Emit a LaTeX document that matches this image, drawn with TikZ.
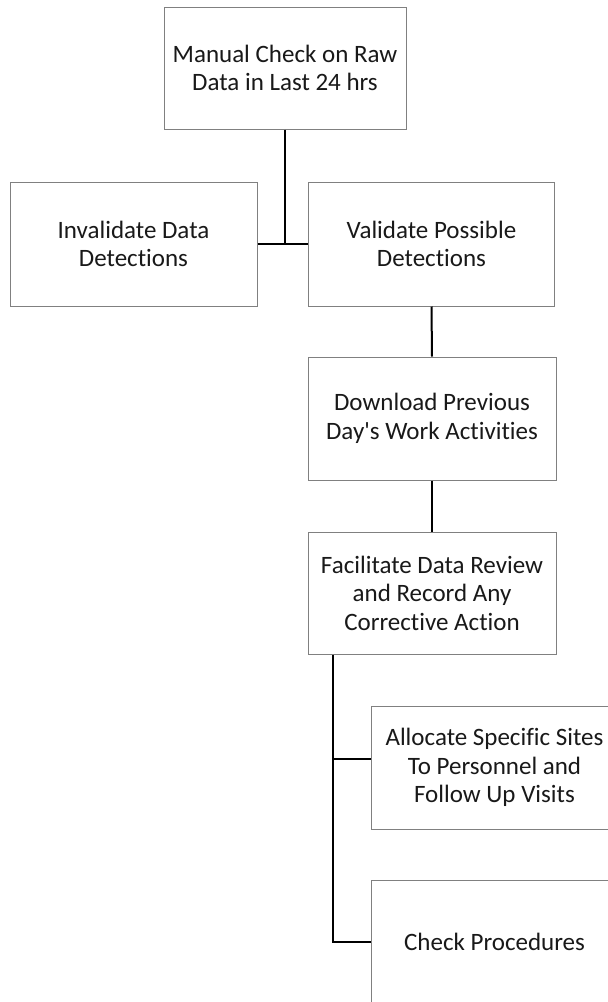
\documentclass[tikz,border=0pt]{standalone}
\usepackage{fontspec}
\setmainfont{Carlito}[Ligatures={TeXOff,CommonOff}]
\begin{document}
\begin{tikzpicture}[x=1pt,y=-1pt,
  box/.style={draw=black!50,line width=1pt,fill=white,inner sep=0pt,align=center,
    font=\fontsize{25}{28.5}\selectfont,text=black!90},
  link/.style={draw=black,line width=2pt}]
\useasboundingbox (0,0) rectangle (608,1002);
\clip (0,0) rectangle (608,1002);
\node[box,minimum width=242pt,minimum height=122pt] (m) at (285,68) {Manual Check on Raw\\Data in Last 24 hrs};
\node[box,minimum width=247pt,minimum height=124pt] (inv) at (133.5,244) {Invalidate Data\\Detections};
\node[box,minimum width=246pt,minimum height=124pt] (val) at (431.5,244) {Validate Possible\\Detections};
\node[box,minimum width=248pt,minimum height=123pt] (dl) at (432,418.5) {Download Previous\\Day's Work Activities};
\node[box,minimum width=248pt,minimum height=122pt] (fac) at (432,593) {Facilitate Data Review\\and Record Any\\Corrective Action};
\node[box,minimum width=247pt,minimum height=123pt] (al) at (494.5,767.5) {Allocate Specific Sites\\To Personnel and\\Follow Up Visits};
\node[box,minimum width=247pt,minimum height=123pt] (chk) at (494.5,941.5) {Check Procedures};
\draw[link] (m.south) -- (m.south |- inv.east);
\draw[link] (inv.east) -- (val.west);
\draw[link] (val.south) -- (dl.north);
\draw[link] (dl.south) -- (fac.north);
\coordinate (t) at ([xshift=25pt]fac.south west);
\coordinate (aj) at ([yshift=9pt]al.west);
\draw[link] (t) |- (chk.west);
\draw[link] (t |- aj) -- (aj);
\end{tikzpicture}
\end{document}
